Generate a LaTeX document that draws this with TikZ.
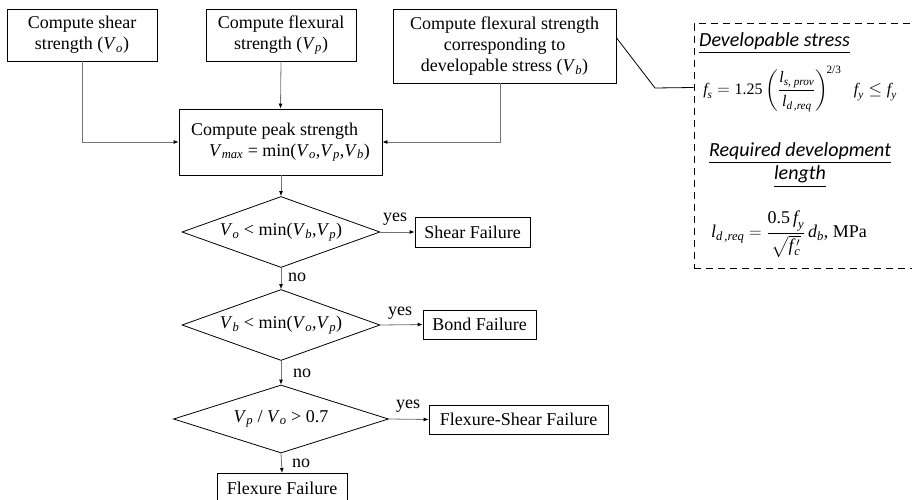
\documentclass[tikz,border=0pt]{standalone}
\usepackage{amsmath}
\usepackage{fontspec}
\setmainfont{Liberation Serif}
\newfontfamily\calib{Carlito}
\usetikzlibrary{shapes.geometric,arrows.meta,calc}
\newcommand\Vsub[1]{\textit{V}$_{\textit{#1}}$}
\newcommand\ti[1]{\textit{#1}}
\tikzset{
  box/.style={draw=black, line width=0.8pt, rectangle, inner sep=0pt, align=center,
    font=\fontsize{18}{21}\selectfont},
  dec/.style={draw=black, line width=0.8pt, diamond, inner sep=0pt, aspect=2.8,
    font=\fontsize{18}{21}\selectfont},
  conn/.style={draw=black!55, line width=0.8pt, -{Latex[length=5pt,width=4pt,color=black]}},
  lbl/.style={font=\fontsize{18}{21}\selectfont, inner sep=0pt},
  notebox/.style={draw=black, line width=1pt, dash pattern=on 7pt off 5pt, rectangle, inner sep=0pt},
  head/.style={font=\calib\itshape\fontsize{20}{23}\selectfont, inner sep=0pt, align=center},
  eq/.style={font=\fontsize{16}{19}\selectfont, inner sep=0pt},
  eqb/.style={font=\fontsize{18}{21}\selectfont, inner sep=0pt}
}
\begin{document}
\begin{tikzpicture}[x=1pt,y=-1pt]
\useasboundingbox (0,0) rectangle (912,500);
\clip (0,0) rectangle (912,500);
% top boxes
\node[box, minimum width=150pt, minimum height=52pt] (vo) at (82,35) {Compute shear\\strength (\Vsub{o})};
\node[box, minimum width=150pt, minimum height=52pt] (vp) at (281,35) {Compute flexural\\strength (\Vsub{p})};
\node[box, minimum width=223pt, minimum height=74pt] (vb) at (504.5,46) {Compute flexural strength\\corresponding to\\developable stress (\Vsub{b})};
\node[box, minimum width=203pt, minimum height=66pt, align=left] (peak) at (280.5,142) {Compute peak strength\\\hspace{18pt}\Vsub{max} = min(\Vsub{o},\Vsub{p},\Vsub{b})};
% decisions
\node[dec, minimum width=198pt, minimum height=71pt] (d1) at (281,232) {\Vsub{o} < min(\Vsub{b},\Vsub{p})};
\node[dec, minimum width=198pt, minimum height=71pt] (d2) at (281,325) {\Vsub{b} < min(\Vsub{o},\Vsub{p})};
\node[dec, minimum width=215pt, minimum height=68pt, aspect=3.1] (d3) at (281,419) {\Vsub{p} / \Vsub{o} > 0.7};
% outcomes
\node[box, minimum width=115pt, minimum height=30pt] (sf) at (472.5,232) {Shear Failure};
\node[box, minimum width=113pt, minimum height=29pt] (bf) at (479.5,324.5) {Bond Failure};
\node[box, minimum width=179pt, minimum height=29pt] (fs) at (518.5,419.5) {Flexure-Shear Failure};
\node[box, minimum width=130pt, minimum height=40pt, anchor=north, text depth=0pt, text height=0pt] (ff) at (282,473) {};
\node[lbl, anchor=base] at (282,494) {Flexure Failure};
% connectors from inputs
\draw[conn] (vo.south) |- (peak.west);
\draw[conn] (vp.south) -- (peak.north);
\draw[conn] (vb.south -| 500,0) |- (peak.east);
\draw[conn] (peak.south -| 281,0) -- (d1.north);
\draw[conn] (d1.east) -- (sf.west);
\draw[conn] (d1.south) -- (d2.north);
\draw[conn] (d2.east) -- (bf.west);
\draw[conn] (d2.south) -- (d3.north);
\draw[conn] (d3.east) -- (fs.west);
\draw[conn] (d3.south) -- (ff.north);
% labels
\node[lbl] at (395,219) {yes};
\node[lbl] at (297,277) {no};
\node[lbl] at (400,313) {yes};
\node[lbl] at (302,373) {no};
\node[lbl] at (408,406) {yes};
\node[lbl] at (301,463) {no};
% note box
\node[notebox, minimum width=226pt, minimum height=244pt] (note) at (807,146) {};
\coordinate (c1) at ($(vb.north east)!0.39!(vb.south east)$);
\coordinate (c3) at ($(note.north west)+(0,64)$);
\draw[line width=0.8pt] (c1) -- (655,88) -- (c3);
\node[head, anchor=west] (h1) at (699,43) {\underline{Developable stress}};
\node[eq] (e1) at (800,89) {$\ti{f}_{\ti{s}} = \text{1.25}\left(\dfrac{\ti{l}_{\ti{s, prov}}}{\ti{l}_{\ti{d\,,req}}}\right)^{\!\text{2/3}}\;\; \ti{f}_{\ti{y}} \le \ti{f}_{\ti{y}}$};
\node[head] (h2) at (800,165) {\underline{Required development}\\\underline{length}};
\node[eqb] (e2) at (789,234) {$\ti{l}_{\ti{d\,,req}} = \dfrac{\text{0.5}\,\ti{f}_{\ti{y}}\rule[-4pt]{0pt}{4pt}}{\rule{0pt}{16pt}\sqrt{\ti{f}\,'_{\!\ti{c}}}}\,\ti{d}_{\ti{b}}\text{, MPa}$};
\end{tikzpicture}
\end{document}
